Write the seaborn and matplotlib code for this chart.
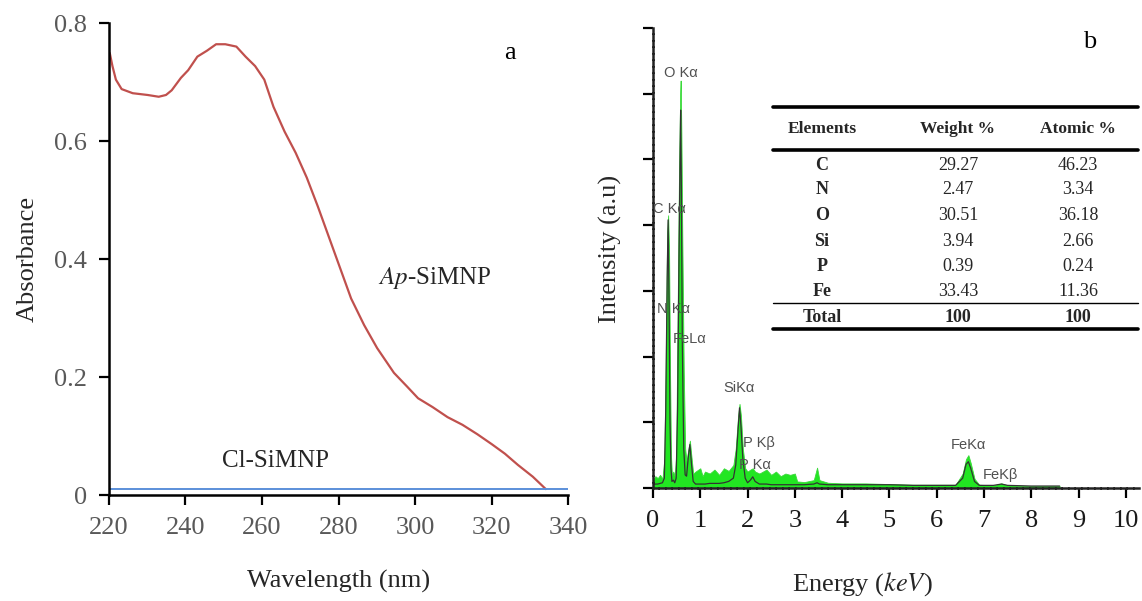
import matplotlib
matplotlib.use("Agg")
import matplotlib.pyplot as plt
from matplotlib.lines import Line2D
import seaborn as sns
import pandas as pd

# ---- panel a: UV-vis absorbance ----
wavelength_nm = [220.2, 220.9, 221.8, 223.3, 226.2, 230.1, 233.0, 234.9, 236.4, 238.8,
                 240.7, 243.1, 245.6, 248.0, 250.4, 253.3, 255.7, 258.2, 260.6, 263.0,
                 265.9, 268.8, 271.7, 274.6, 277.5, 280.4, 283.3, 286.7, 290.1, 294.5,
                 297.9, 300.8, 304.6, 308.5, 312.4, 316.3, 320.1, 323.5, 326.9, 330.8, 334.2]
absorbance_ap = [0.749, 0.727, 0.704, 0.688, 0.681, 0.678, 0.675, 0.678, 0.686, 0.707,
                 0.720, 0.743, 0.753, 0.764, 0.764, 0.760, 0.743, 0.727, 0.704, 0.658,
                 0.616, 0.580, 0.538, 0.489, 0.437, 0.385, 0.333, 0.288, 0.249, 0.207,
                 0.184, 0.164, 0.149, 0.132, 0.119, 0.103, 0.086, 0.070, 0.051, 0.031, 0.010]
wavelength_cl = [220, 340]
absorbance_cl = [0.01, 0.01]

# ---- panel b: EDS spectrum ----
energy_kev = [0.00, 0.05, 0.10, 0.15, 0.20, 0.24, 0.27, 0.30, 0.32, 0.34, 0.36, 0.38, 0.40,
              0.43, 0.46, 0.49, 0.52, 0.55, 0.575, 0.585, 0.60, 0.62, 0.65, 0.68, 0.71,
              0.75, 0.78, 0.81, 0.85, 0.90, 1.00, 1.05, 1.10, 1.20, 1.30, 1.40, 1.50,
              1.60, 1.70, 1.75, 1.80, 1.83, 1.86, 1.90, 1.95, 2.00, 2.06, 2.11, 2.16,
              2.25, 2.40, 2.50, 2.60, 2.70, 2.80, 2.90, 3.00, 3.05, 3.20, 3.40, 3.47,
              3.52, 3.70, 4.00, 4.50, 5.00, 5.50, 6.00, 6.40, 6.55, 6.62, 6.67, 6.72,
              6.80, 6.90, 7.20, 7.37, 7.50, 8.00, 8.60]
counts_fill = [0.12, 0.18, 0.15, 0.20, 0.14, 0.45, 2.00, 3.90, 4.15, 3.60, 1.80, 0.50, 0.20,
               0.25, 0.18, 0.50, 2.60, 4.80, 6.00, 6.20, 5.40, 3.80, 1.80, 0.60, 0.40,
               0.60, 0.72, 0.50, 0.22, 0.25, 0.30, 0.18, 0.25, 0.22, 0.28, 0.20, 0.30,
               0.26, 0.35, 0.60, 1.10, 1.28, 1.10, 0.60, 0.30, 0.25, 0.28, 0.30, 0.25,
               0.22, 0.28, 0.20, 0.25, 0.18, 0.22, 0.20, 0.22, 0.10, 0.09, 0.12, 0.31,
               0.12, 0.08, 0.07, 0.07, 0.06, 0.05, 0.05, 0.05, 0.22, 0.44, 0.50, 0.38,
               0.14, 0.05, 0.04, 0.07, 0.04, 0.03, 0.03]
counts_line = [0.05, 0.06, 0.06, 0.07, 0.08, 0.15, 1.20, 3.20, 4.08, 2.80, 1.00, 0.30, 0.10,
               0.12, 0.08, 0.15, 1.20, 3.50, 5.20, 5.75, 4.60, 2.20, 0.60, 0.20, 0.18,
               0.50, 0.66, 0.40, 0.10, 0.06, 0.06, 0.06, 0.06, 0.07, 0.07, 0.07, 0.08,
               0.10, 0.15, 0.35, 0.90, 1.22, 0.95, 0.45, 0.15, 0.08, 0.12, 0.17, 0.10,
               0.06, 0.06, 0.05, 0.05, 0.05, 0.05, 0.05, 0.05, 0.05, 0.05, 0.06, 0.08,
               0.06, 0.05, 0.05, 0.05, 0.05, 0.04, 0.04, 0.04, 0.15, 0.36, 0.40, 0.30,
               0.10, 0.04, 0.04, 0.06, 0.04, 0.03, 0.03]

peak_labels = ["O Kα", "C Kα", "N Kα", "FeLα", "SiKα", "P Kβ", "P Kα", "FeKα", "FeKβ"]
peak_label_x = [0.585, 0.345, 0.43, 0.77, 1.82, 2.23, 2.16, 6.67, 7.34]
peak_label_y = [6.31, 4.24, 2.73, 2.26, 1.52, 0.68, 0.35, 0.65, 0.20]

# ---- composition table ----
table_header = ["Elements", "Weight %", "Atomic %"]
elements = ["C", "N", "O", "Si", "P", "Fe"]
weight_pct = ["29.27", "2.47", "30.51", "3.94", "0.39", "33.43"]
atomic_pct = ["46.23", "3.34", "36.18", "2.66", "0.24", "11.36"]
total_row = ["Total", "100", "100"]

sns.set_theme(style="ticks")
plt.rcParams["font.family"] = ["Liberation Serif", "DejaVu Serif"]
plt.rcParams["mathtext.fontset"] = "stix"

W, H = 1142, 601
fig = plt.figure(figsize=(W / 100, H / 100), dpi=100)


def fx(x):
    return x / W


def fy(y):
    return 1 - y / H


# panel a
ax1 = fig.add_axes([fx(109), fy(495), (568 - 109) / W, (495 - 23) / H])
sns.lineplot(x=wavelength_nm, y=absorbance_ap, ax=ax1, color="#c0504d", linewidth=1.6)
sns.lineplot(x=wavelength_cl, y=absorbance_cl, ax=ax1, color="#5b8fd9", linewidth=1.4)
ax1.set_xlim(220, 340)
ax1.set_ylim(0, 0.8)
ax1.set_xticks(range(220, 341, 20))
ax1.set_yticks([0, 0.2, 0.4, 0.6, 0.8])
ax1.set_yticklabels(["0", "0.2", "0.4", "0.6", "0.8"])
ax1.tick_params(axis="both", direction="out", length=7, width=1.6, labelsize=19,
                labelcolor="#595959", color="black", pad=9)
for s in ["left", "bottom"]:
    ax1.spines[s].set_linewidth(1.8)
    ax1.spines[s].set_color("black")
sns.despine(ax=ax1)
ax1.set_xlabel("Wavelength (nm)", fontsize=19, color="#262626")
ax1.set_ylabel("Absorbance", fontsize=19, color="#262626")
ax1.xaxis.set_label_coords(0.5, -0.158)
ax1.yaxis.set_label_coords(-0.153, 0.5)
ax1.text(324.8, 0.749, "a", fontsize=19, ha="center", va="center", color="black")
ax1.text(305.1, 0.368, "$\\mathit{Ap}$-SiMNP", fontsize=18, ha="center", va="center",
         color="#262626")
ax1.text(263.5, 0.057, "Cl-SiMNP", fontsize=18, ha="center", va="center", color="#262626")

# panel b
ax2 = fig.add_axes([fx(653), fy(488), (1140 - 653) / W, (488 - 28) / H])
spec = pd.DataFrame({"energy": energy_kev, "fill": counts_fill, "line": counts_line})
ax2.fill_between(spec["energy"], 0, spec["fill"], color="#22e622", linewidth=0.6,
                 edgecolor="#3ad93a")
sns.lineplot(data=spec, x="energy", y="line", ax=ax2, color="#333333", linewidth=0.9)
ax2.set_xlim(0, 10.3)
ax2.set_ylim(0, 7)
ax2.set_xticks(range(0, 11))
ax2.set_yticks(range(0, 8))
ax2.set_yticklabels([])
ax2.tick_params(axis="both", direction="out", length=7, width=1.6, labelsize=19,
                labelcolor="#1a1a1a", color="black", pad=9)
for s in ["left", "bottom"]:
    ax2.spines[s].set_linewidth(1.8)
    ax2.spines[s].set_color("#222222")
    ax2.spines[s].set_linestyle((0, (2, 0.6)))
sns.despine(ax=ax2)
ax2.set_xlabel("Energy ($\\mathit{keV}$)", fontsize=19, color="#262626")
ax2.set_ylabel("Intensity (a.u)", fontsize=19, color="#262626")
ax2.xaxis.set_label_coords(0.43, -0.178)
ax2.yaxis.set_label_coords(-0.064, 0.52)
ax2.text(9.24, 6.79, "b", fontsize=19, ha="center", va="center", color="black")
for lab, lx, ly in zip(peak_labels, peak_label_x, peak_label_y):
    ax2.text(lx, ly, lab, fontsize=10.5, ha="center", va="center", color="#505050",
             family=["Liberation Sans", "DejaVu Sans"])

# table overlay (pixel positions in the figure)
col_x = [822, 958, 1078]
x0, x1 = 773, 1138
for yy, lw in [(107, 2.6), (150, 2.6), (303, 1.0), (329, 2.6)]:
    fig.add_artist(Line2D([fx(x0), fx(x1)], [fy(yy), fy(yy)], color="black", linewidth=lw))
for cx, txt in zip(col_x, table_header):
    fig.text(fx(cx), fy(129), txt, fontsize=12.5, fontweight="bold", ha="center", va="center")
row_y = [165, 190, 216, 241, 266, 291]
for ry, el, wp, ap in zip(row_y, elements, weight_pct, atomic_pct):
    fig.text(fx(col_x[0]), fy(ry), el, fontsize=13, fontweight="bold", ha="center", va="center")
    fig.text(fx(col_x[1]), fy(ry), wp, fontsize=13, ha="center", va="center")
    fig.text(fx(col_x[2]), fy(ry), ap, fontsize=13, ha="center", va="center")
for cx, txt in zip(col_x, total_row):
    fig.text(fx(cx), fy(317), txt, fontsize=13, fontweight="bold", ha="center", va="center")

fig.savefig("out.png", dpi=100)
